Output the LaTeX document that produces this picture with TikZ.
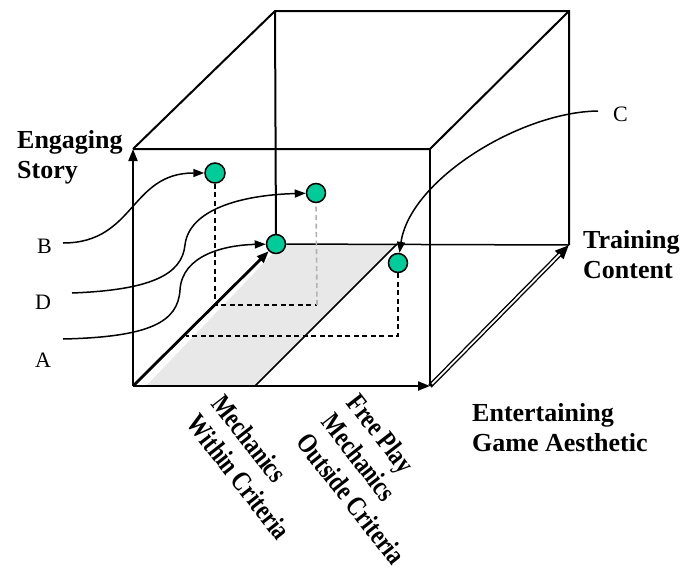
\documentclass[tikz,border=0pt]{standalone}
\usepackage{fontspec}
\setmainfont{Liberation Serif}
\usetikzlibrary{arrows.meta}
\definecolor{pointgreen}{RGB}{0,204,153}
\definecolor{floorgray}{RGB}{232,232,232}

\begin{document}
\begin{tikzpicture}[x = 1pt, y = -1pt,
  cubeedge/.style = {line width = 2pt},
  axisarrow/.style = {line width = 2pt, -{Triangle[length = 12pt, width = 9pt]}},
  projline/.style = {line width = 1.6pt, dash pattern = on 5pt off 3.5pt},
  pointer/.style = {line width = 1.5pt, -{Triangle[length = 11pt, width = 8pt]}},
  playpoint/.style = {circle, draw, line width = 1.5pt, fill = pointgreen,
    minimum size = 20pt, inner sep = 0pt},
  caselabel/.style = {font = \fontsize{22}{26}\selectfont, inner sep = 0pt, anchor = base west},
  axislabel/.style = {font = \fontsize{26}{30}\selectfont\bfseries, align = left,
    inner sep = 0pt, anchor = north west},
  critlabel/.style = {font = \fontsize{28}{32}\selectfont\bfseries, align = left,
    inner sep = 0pt, rotate = -52, xscale = 0.8, anchor = north west}]
  \useasboundingbox (0, 0) rectangle (686, 571);

  % corners of the cube
  \coordinate (o) at (133, 386);
  \coordinate (fbr) at (430, 386);
  \coordinate (ftl) at (133, 149);
  \coordinate (ftr) at (430, 149);
  \coordinate (btl) at (275, 11);
  \coordinate (btr) at (569, 11);
  \coordinate (bbr) at (569, 245);
  \coordinate (m1) at (255, 386);
  \coordinate (m2) at (397, 244);

  % shaded floor for mechanics within criteria
  \fill[floorgray] (146, 386) -- (m1) -- (m2) -- (282, 244) -- cycle;

  % the points
  \node[playpoint] (pB) at (215, 173) {};
  \node[playpoint, minimum size = 19pt] (pD) at (316, 193) {};
  \node[playpoint, minimum size = 19pt] (pA) at (276, 244) {};
  \node[playpoint, minimum size = 19pt] (pC) at (398, 263) {};

  % cube edges
  \draw[cubeedge] (ftl) -- (btl) -- (btr) -- (bbr);
  \draw[cubeedge] (ftl) -- (ftr) -- (btr);
  \draw[cubeedge] (ftr) -- (fbr);
  \draw[cubeedge] (btl) -- (pA);
  \draw[line width = 1.5pt] (pA) -- (bbr);
  \draw[line width = 1.5pt] (m1) -- (m2);

  % axes
  \draw[axisarrow] (o) -- (ftl);
  \draw[axisarrow] (o) -- (fbr);
  \draw[axisarrow, line width = 2.8pt] (o) -- (pA);
  \draw[line width = 4.6pt, -{Triangle[length = 14pt, width = 11pt]}] (fbr) -- (bbr);
  \draw[white, line width = 1.8pt, shorten <= 3pt, shorten >= 13pt] (fbr) -- (bbr);

  % projections of the points
  \coordinate (qD) at (317, 305);
  \coordinate (qC) at (186, 336);
  \draw[projline] (pB.south) |- (qD);
  \draw[projline, gray!60] (qD) -- (pD.south);
  \draw[projline] (pC.south) |- (qC);

  % labels
  \node[axislabel] (story) at (17, 130) {Engaging\\Story};
  \node[axislabel] (training) at (583, 230) {Training\\Content};
  \node[axislabel] (aesthetic) at (472, 403) {Entertaining\\Game Aesthetic};
  \node[critlabel] (within) at (226, 392) {Mechanics\\Within Criteria};
  \node[critlabel] (outside) at (361, 391) {Free Play\\Mechanics\\Outside Criteria};
  \node[caselabel] (lB) at (37, 253) {B};
  \node[caselabel] (lD) at (35, 309) {D};
  \node[caselabel] (lA) at (35, 367) {A};
  \node[caselabel] (lC) at (613, 121) {C};

  % pointers from the cases to their points
  \coordinate (sB) at (63, 243);
  \coordinate (sD) at (72, 293);
  \coordinate (sA) at (63, 339);
  \coordinate (sC) at (598, 111);
  \draw[pointer] (sB) .. controls (135, 243) and (130, 173) .. (pB);
  \draw[pointer] (sD) .. controls (150, 290) and (182, 275) .. (185, 245)
    .. controls (189, 210) and (240, 195) .. (pD);
  \draw[pointer] (sA) .. controls (150, 337) and (178, 322) .. (180, 290)
    .. controls (182, 255) and (225, 245) .. (pA);
  \draw[pointer] (sC) .. controls (520, 112) and (410, 180) .. (pC);
\end{tikzpicture}
\end{document}
